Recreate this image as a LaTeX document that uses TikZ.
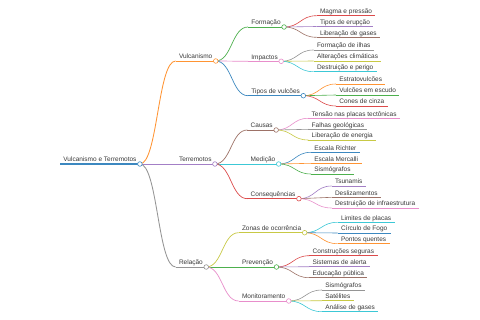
\documentclass[tikz,border=0pt]{standalone}
\usepackage{fontspec}
\setmainfont{Liberation Sans}
\usetikzlibrary{calc}
\definecolor{cblue}{HTML}{3C88C0}
\definecolor{corange}{HTML}{FF9433}
\definecolor{cgreen}{HTML}{4DB04D}
\definecolor{cred}{HTML}{DC4A4B}
\definecolor{cpurple}{HTML}{A37FC6}
\definecolor{cbrown}{HTML}{9D7267}
\definecolor{cpink}{HTML}{E88ECB}
\definecolor{cgray}{HTML}{959595}
\definecolor{colive}{HTML}{C8C945}
\definecolor{ccyan}{HTML}{3CC8D6}
\definecolor{txtc}{HTML}{3A3A3A}
\tikzset{
  lbl/.style={inner xsep=3.4pt, inner ysep=0pt, outer sep=0pt, font=\fontsize{6.5}{7}\selectfont, text=txtc},
  w0/.style={line width=1.1pt},
  w1/.style={line width=0.85pt},
  w2/.style={line width=0.7pt},
  w3/.style={line width=0.6pt},
  knob/.style={fill=white, line width=0.6pt}
}
\newcommand\mmnode[6]{%
  \coordinate (#1-s) at (#2,#3);
  \node[lbl,anchor=base west] (#1) at (#2,#3-2.2) {#6};
  \coordinate (#1-e) at (#1.base east |- #1-s);
  \draw[#4,#5] (#1-s) -- (#1-e);
}
\newcommand\mmlink[4]{%
  \draw[#3,#4] let \p1=(#1-e), \p2=(#2-s) in
    (#1-e) .. controls ({0.5*\x1+0.5*\x2},\y1) and ({0.5*\x1+0.5*\x2},\y2) .. (#2-s);
}
\newcommand\mmknob[2]{\draw[#2,knob] (#1-e) circle (2.3pt);}
\begin{document}
\begin{tikzpicture}[x=1pt,y=-1pt]
\fill[white] (0,0) rectangle (480,320);
\useasboundingbox (0,0) rectangle (480,320);
% nodes
\mmnode{root}{60}{164}{cblue}{w0}{Vulcanismo e Terremotos}
\mmnode{v}{175.6}{61}{corange}{w1}{Vulcanismo}
\mmnode{t}{175.6}{164}{cpurple}{w1}{Terremotos}
\mmnode{r}{175.6}{267}{cgray}{w1}{Relação}
\mmnode{v1}{248}{27}{cgreen}{w2}{Formação}
\mmnode{v2}{248}{61.3}{cpink}{w2}{Impactos}
\mmnode{v3}{248}{95.7}{cblue}{w2}{Tipos de vulcões}
\mmnode{v11}{316.6}{15.7}{cred}{w3}{Magma e pressão}
\mmnode{v12}{316.6}{26.5}{cpurple}{w3}{Tipos de erupção}
\mmnode{v13}{316.6}{37.3}{cbrown}{w3}{Liberação de gases}
\mmnode{v21}{313.6}{50}{cgray}{w3}{Formação de ilhas}
\mmnode{v22}{313.6}{61}{colive}{w3}{Alterações climáticas}
\mmnode{v23}{313.6}{71.7}{ccyan}{w3}{Destruição e perigo}
\mmnode{v31}{336}{84}{corange}{w3}{Estratovulcões}
\mmnode{v32}{336}{95}{cgreen}{w3}{Vulcões em escudo}
\mmnode{v33}{336}{106}{cred}{w3}{Cones de cinza}
\mmnode{t1}{247.3}{130}{cbrown}{w2}{Causas}
\mmnode{t2}{247.3}{164}{ccyan}{w2}{Medição}
\mmnode{t3}{247.3}{198.7}{cred}{w2}{Consequências}
\mmnode{t11}{308.3}{118.3}{cpink}{w3}{Tensão nas placas tectônicas}
\mmnode{t12}{308.3}{129.3}{cgray}{w3}{Falhas geológicas}
\mmnode{t13}{308.3}{140}{colive}{w3}{Liberação de energia}
\mmnode{t21}{311}{152.3}{cblue}{w3}{Escala Richter}
\mmnode{t22}{311}{163.3}{corange}{w3}{Escala Mercalli}
\mmnode{t23}{311}{174}{cgreen}{w3}{Sismógrafos}
\mmnode{t31}{331.6}{186}{cpurple}{w3}{Tsunamis}
\mmnode{t32}{331.6}{197.3}{cbrown}{w3}{Deslizamentos}
\mmnode{t33}{331.6}{208}{cpink}{w3}{Destruição de infraestrutura}
\mmnode{r1}{238.6}{232.7}{colive}{w2}{Zonas de ocorrência}
\mmnode{r2}{238.6}{267}{cgreen}{w2}{Prevenção}
\mmnode{r3}{238.6}{301}{cpink}{w2}{Monitoramento}
\mmnode{r11}{337.6}{222.3}{ccyan}{w3}{Limites de placas}
\mmnode{r12}{337.6}{233}{cblue}{w3}{Círculo de Fogo}
\mmnode{r13}{337.6}{243.7}{corange}{w3}{Pontos quentes}
\mmnode{r21}{309.3}{255.7}{cred}{w3}{Construções seguras}
\mmnode{r22}{309.3}{266.7}{cpurple}{w3}{Sistemas de alerta}
\mmnode{r23}{309.3}{277.7}{cbrown}{w3}{Educação pública}
\mmnode{r31}{322}{290}{cgray}{w3}{Sismógrafos}
\mmnode{r32}{322}{300.7}{colive}{w3}{Satélites}
\mmnode{r33}{322}{311.7}{ccyan}{w3}{Análise de gases}
% links
\mmlink{root}{v}{corange}{w1}
\mmlink{root}{t}{cpurple}{w1}
\mmlink{root}{r}{cgray}{w1}
\mmlink{v}{v1}{cgreen}{w2}
\mmlink{v}{v2}{cpink}{w2}
\mmlink{v}{v3}{cblue}{w2}
\mmlink{v1}{v11}{cred}{w3}
\mmlink{v1}{v12}{cpurple}{w3}
\mmlink{v1}{v13}{cbrown}{w3}
\mmlink{v2}{v21}{cgray}{w3}
\mmlink{v2}{v22}{colive}{w3}
\mmlink{v2}{v23}{ccyan}{w3}
\mmlink{v3}{v31}{corange}{w3}
\mmlink{v3}{v32}{cgreen}{w3}
\mmlink{v3}{v33}{cred}{w3}
\mmlink{t}{t1}{cbrown}{w2}
\mmlink{t}{t2}{ccyan}{w2}
\mmlink{t}{t3}{cred}{w2}
\mmlink{t1}{t11}{cpink}{w3}
\mmlink{t1}{t12}{cgray}{w3}
\mmlink{t1}{t13}{colive}{w3}
\mmlink{t2}{t21}{cblue}{w3}
\mmlink{t2}{t22}{corange}{w3}
\mmlink{t2}{t23}{cgreen}{w3}
\mmlink{t3}{t31}{cpurple}{w3}
\mmlink{t3}{t32}{cbrown}{w3}
\mmlink{t3}{t33}{cpink}{w3}
\mmlink{r}{r1}{colive}{w2}
\mmlink{r}{r2}{cgreen}{w2}
\mmlink{r}{r3}{cpink}{w2}
\mmlink{r1}{r11}{ccyan}{w3}
\mmlink{r1}{r12}{cblue}{w3}
\mmlink{r1}{r13}{corange}{w3}
\mmlink{r2}{r21}{cred}{w3}
\mmlink{r2}{r22}{cpurple}{w3}
\mmlink{r2}{r23}{cbrown}{w3}
\mmlink{r3}{r31}{cgray}{w3}
\mmlink{r3}{r32}{colive}{w3}
\mmlink{r3}{r33}{ccyan}{w3}
% knobs
\mmknob{root}{cblue}
\mmknob{v}{corange}
\mmknob{t}{cpurple}
\mmknob{r}{cgray}
\mmknob{v1}{cgreen}
\mmknob{v2}{cpink}
\mmknob{v3}{cblue}
\mmknob{t1}{cbrown}
\mmknob{t2}{ccyan}
\mmknob{t3}{cred}
\mmknob{r1}{colive}
\mmknob{r2}{cgreen}
\mmknob{r3}{cpink}
\end{tikzpicture}
\end{document}
